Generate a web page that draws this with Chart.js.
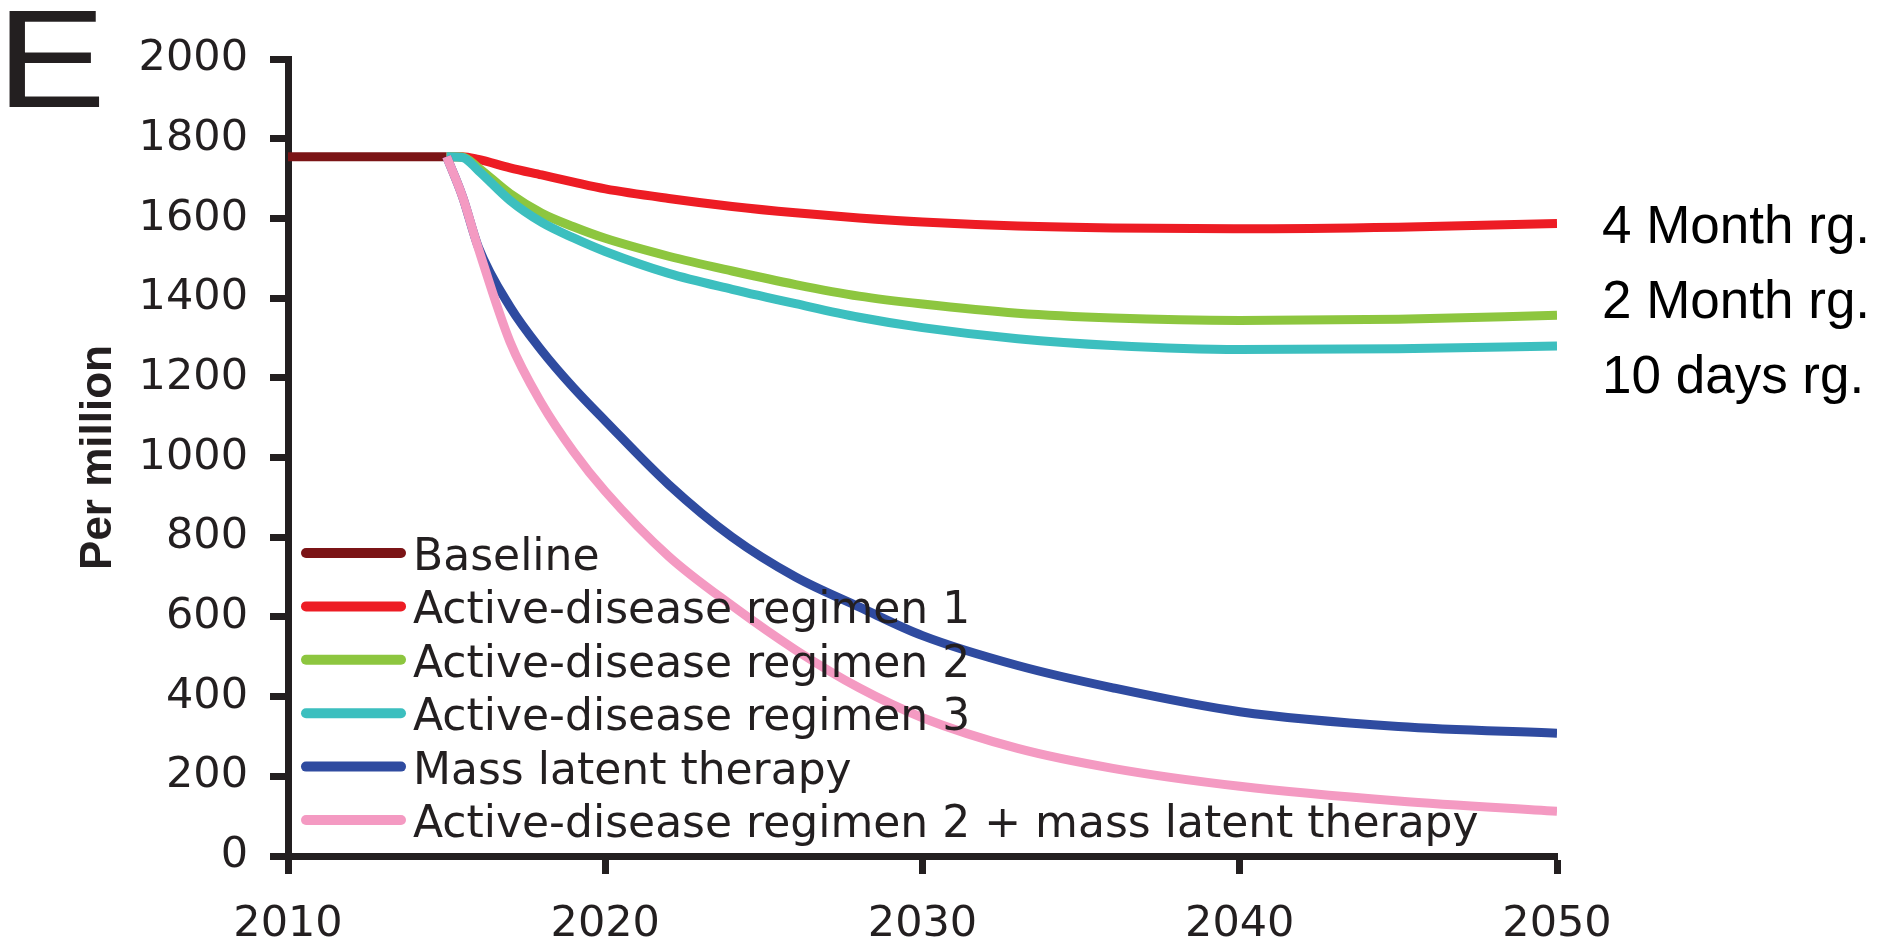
<!DOCTYPE html>
<html>
<head>
<meta charset="utf-8">
<script src="https://cdn.jsdelivr.net/npm/chart.js@4.4.1/dist/chart.umd.min.js"></script>
<style>
  html, body { margin: 0; padding: 0; background: #fff; }
  #wrap { width: 1884px; height: 940px; }
</style>
</head>
<body>
<div id="wrap"><canvas id="grafico" width="1884" height="940"></canvas></div>
<script>
// ===========================
// DATOS
// ===========================
const baselineYears = [2010, 2015];
const baseline = [1755, 1755];

const years = [2015, 2015.5, 2016, 2017, 2018, 2019, 2020, 2022, 2024, 2026, 2028, 2030, 2033, 2036, 2040, 2045, 2050];
const regimen1 = [1755, 1755, 1748, 1727, 1709, 1691, 1674, 1650, 1630, 1614, 1601, 1591, 1581, 1576, 1574, 1578, 1587];
const regimen2 = [1755, 1754, 1727, 1662, 1613, 1579, 1550, 1505, 1468, 1434, 1405, 1385, 1362, 1350, 1344, 1347, 1357];
const regimen3 = [1755, 1753, 1720, 1645, 1590, 1551, 1517, 1462, 1422, 1386, 1352, 1326, 1298, 1281, 1271, 1273, 1280];
const massLatent = [1755, 1655, 1528, 1378, 1268, 1175, 1092, 932, 800, 700, 625, 553, 478, 422, 362, 325, 308];
const regimen2Mass = [1755, 1655, 1525, 1290, 1135, 1015, 915, 752, 628, 517, 422, 347, 270, 220, 175, 138, 112];

const seriesLabels = [
  "Baseline",
  "Active-disease regimen 1",
  "Active-disease regimen 2",
  "Active-disease regimen 3",
  "Mass latent therapy",
  "Active-disease regimen 2 + mass latent therapy"
];
const seriesColors = ["#7b1416", "#ed1c24", "#8dc63f", "#3cbfbf", "#2f4ba0", "#f49ac2"];

const xTicks = [2010, 2020, 2030, 2040, 2050];
const yTicks = [0, 200, 400, 600, 800, 1000, 1200, 1400, 1600, 1800, 2000];

const panelLetter = "E";
const yTitle = "Per million";
const endLabels = ["4 Month rg.", "2 Month rg.", "10 days rg."];

// ===========================
// HELPERS
// ===========================
const TEXT = "#231f20";
const pares = (xs, ys) => xs.map((x, i) => ({ x: x, y: ys[i] }));

const seriesData = [
  pares(baselineYears, baseline),
  pares(years, regimen1),
  pares(years, regimen2),
  pares(years, regimen3),
  pares(years, massLatent),
  pares(years, regimen2Mass)
];

// leyenda dentro del area, letra del panel y etiquetas de la derecha
const extrasPlugin = {
  id: "extras",
  afterDatasetsDraw(chart) {
    const ctx = chart.ctx;
    ctx.save();

    chart.data.datasets.forEach((ds, i) => {
      const y = 553 + i * 53.4;
      ctx.strokeStyle = ds.borderColor;
      ctx.lineWidth = 10;
      ctx.lineCap = "round";
      ctx.beginPath();
      ctx.moveTo(306, y);
      ctx.lineTo(401, y);
      ctx.stroke();

      ctx.fillStyle = TEXT;
      ctx.font = "44px 'DejaVu Sans'";
      ctx.textBaseline = "alphabetic";
      ctx.textAlign = "left";
      ctx.fillText(ds.label, 413, y + 17);
    });

    ctx.font = "53px 'Liberation Sans'";
    ctx.fillStyle = "#000";
    endLabels.forEach((t, i) => {
      ctx.fillText(t, 1602, 243 + i * 75);
    });

    ctx.save();
    ctx.translate(-4, 107);
    ctx.scale(1.18, 1);
    ctx.font = "140px 'Liberation Sans'";
    ctx.fillStyle = TEXT;
    ctx.fillText(panelLetter, 0, 0);
    ctx.restore();

    ctx.restore();
  }
};

const ejeComun = {
  grid: { drawOnChartArea: false, drawTicks: true, tickLength: 18, tickWidth: 7, tickColor: TEXT },
  border: { display: true, color: TEXT, width: 7 }
};

new Chart(document.getElementById("grafico"), {
  type: "line",
  data: {
    datasets: seriesData.map((d, i) => ({
      label: seriesLabels[i],
      data: d,
      borderColor: seriesColors[i],
      backgroundColor: seriesColors[i],
      borderWidth: 9,
      pointRadius: 0,
      fill: false,
      cubicInterpolationMode: "monotone",
      order: seriesData.length - i
    }))
  },
  options: {
    responsive: false,
    animation: false,
    events: [],
    layout: { padding: { left: 0, right: 327, top: 59, bottom: 0 } },
    plugins: { legend: { display: false }, tooltip: { enabled: false } },
    scales: {
      x: {
        ...ejeComun,
        type: "linear",
        min: 2010,
        max: 2050,
        afterBuildTicks: s => { s.ticks = xTicks.map(v => ({ value: v })); },
        afterFit: s => { s.height = 84; },
        ticks: {
          color: TEXT,
          padding: 25,
          maxRotation: 0,
          font: { family: "'DejaVu Sans'", size: 43 },
          callback: v => String(v)
        }
      },
      y: {
        ...ejeComun,
        type: "linear",
        min: 0,
        max: 2000,
        afterBuildTicks: s => { s.ticks = yTicks.map(v => ({ value: v })); },
        afterFit: s => { s.width = 288; },
        title: {
          display: true,
          text: yTitle,
          color: TEXT,
          padding: 72,
          font: { family: "'Liberation Sans'", weight: "bold", size: 44 }
        },
        ticks: {
          color: TEXT,
          padding: 22,
          font: { family: "'DejaVu Sans'", size: 43 },
          callback: v => String(v)
        }
      }
    }
  },
  plugins: [extrasPlugin]
});
</script>
</body>
</html>
